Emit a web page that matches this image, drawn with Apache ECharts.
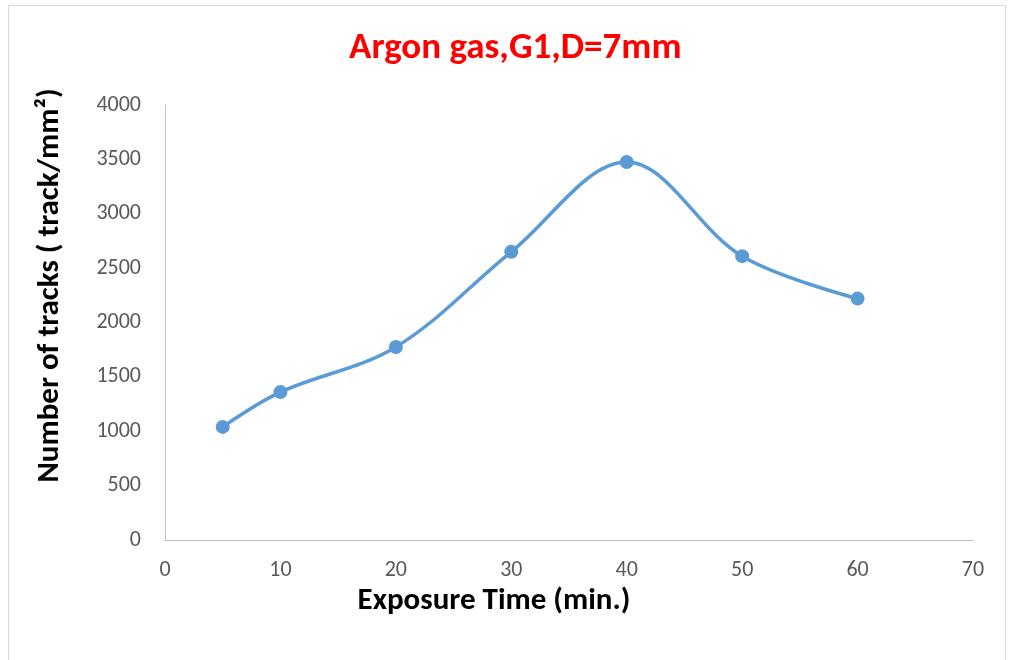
<!DOCTYPE html>
<html>
<head>
<meta charset="utf-8">
<script src="https://cdn.jsdelivr.net/npm/echarts@6/dist/echarts.min.js"></script>
<style>
  html, body { margin: 0; padding: 0; background: #ffffff; }
  #chart { width: 1013px; height: 660px; }
</style>
</head>
<body>
<div id="chart"></div>
<script>
// Exposure time (min) and measured track density (track/mm²)
const exposureTimes = [5, 10, 20, 30, 40, 50, 60];
const trackDensity = [1040, 1360, 1775, 2650, 3475, 2610, 2220];
const xTicks = { min: 0, max: 70, interval: 10 };
const yTicks = { min: 0, max: 4000, interval: 500 };

const narrowFont = 'Carlito, "Liberation Sans Narrow", "Open Sans", sans-serif';

const chart = echarts.init(document.getElementById('chart'), null, { renderer: 'canvas' });

chart.setOption({
  backgroundColor: '#ffffff',
  animation: false,
  title: {
    text: 'Argon gas,G1,D=7mm',
    left: 344,
    top: 25,
    textStyle: { color: '#ff0000', fontSize: 37, fontWeight: 'bold', fontFamily: narrowFont }
  },
  graphic: [{
    type: 'rect',
    shape: { x: 8.5, y: 5.5, width: 997, height: 680 },
    style: { fill: 'none', stroke: '#d9d9d9', lineWidth: 1 },
    silent: true
  }],
  grid: { left: 165, right: 40, top: 105, bottom: 120 },
  xAxis: {
    type: 'value',
    min: xTicks.min, max: xTicks.max, interval: xTicks.interval,
    name: 'Exposure Time (min.)',
    nameLocation: 'middle',
    nameGap: 39,
    nameTextStyle: { color: '#000000', fontSize: 31, fontWeight: 'bold', fontFamily: narrowFont, padding: [0, 150, 0, 0] },
    axisLine: { show: true, lineStyle: { color: '#bfbfbf', width: 1 } },
    axisTick: { show: false },
    splitLine: { show: false },
    axisLabel: { color: '#595959', fontSize: 22, fontFamily: narrowFont, margin: 19 }
  },
  yAxis: {
    type: 'value',
    min: yTicks.min, max: yTicks.max, interval: yTicks.interval,
    name: 'Number of tracks ( track/mm²)',
    nameLocation: 'middle',
    nameGap: 99,
    nameTextStyle: { color: '#000000', fontSize: 31, fontWeight: 'bold', fontFamily: narrowFont, padding: [0, 0, 0, 74] },
    axisLine: { show: true, lineStyle: { color: '#bfbfbf', width: 1 } },
    axisTick: { show: false },
    splitLine: { show: false },
    axisLabel: { color: '#595959', fontSize: 22, fontFamily: narrowFont, margin: 24, formatter: v => String(v) }
  },
  series: [{
    type: 'line',
    data: exposureTimes.map((t, i) => [t, trackDensity[i]]),
    smooth: 0.35,
    symbol: 'circle',
    symbolSize: 14,
    lineStyle: { color: '#5b9bd5', width: 3.5 },
    itemStyle: { color: '#5b9bd5' }
  }]
});
</script>
</body>
</html>
